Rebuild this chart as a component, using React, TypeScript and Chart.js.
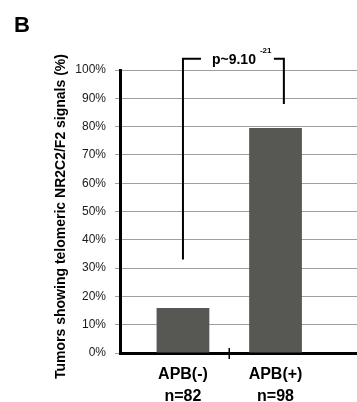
import React, { useEffect, useRef } from 'react';
import { Chart, registerables } from 'chart.js';
Chart.register(...registerables);

const panelLabel = 'B';
const categories = ['APB(-)', 'APB(+)'];
const sampleSizes = ['n=82', 'n=98'];
const values = [15.9, 79.5];
const yTicks = [0, 10, 20, 30, 40, 50, 60, 70, 80, 90, 100];
const yTitle = 'Tumors showing telomeric NR2C2/F2 signals (%)';
const pText = 'p~9.10';
const pExp = '-21';
const bracketTop = 104;
const bracketLeftBottom = 33;
const bracketRightBottom = 88;
const bracketRightX = 2.09;

const FONT = "'Liberation Sans', Arial, sans-serif";

export default function App() {
  const ref = useRef<HTMLCanvasElement>(null);
  useEffect(() => {
    const annot = {
      id: 'annot',
      afterDraw(chart: any) {
        const x = chart.scales.x, y = chart.scales.y, ctx = chart.ctx;
        ctx.save();
        ctx.strokeStyle = '#000';
        ctx.fillStyle = '#000';
        const tx = x.getPixelForValue(1.5);
        const y0 = y.getPixelForValue(0);
        ctx.lineWidth = 1.5;
        ctx.beginPath();
        ctx.moveTo(tx, y0 - 5);
        ctx.lineTo(tx, y0 + 6);
        ctx.stroke();
        const xl = x.getPixelForValue(1), xr = x.getPixelForValue(bracketRightX);
        const yt = y.getPixelForValue(bracketTop);
        ctx.lineWidth = 2;
        ctx.beginPath();
        ctx.moveTo(xl, y.getPixelForValue(bracketLeftBottom));
        ctx.lineTo(xl, yt);
        ctx.lineTo(xl + 18, yt);
        ctx.moveTo(xr - 10, yt);
        ctx.lineTo(xr, yt);
        ctx.lineTo(xr, y.getPixelForValue(bracketRightBottom));
        ctx.stroke();
        ctx.textBaseline = 'alphabetic';
        ctx.textAlign = 'left';
        ctx.font = `bold 14px ${FONT}`;
        ctx.fillText(pText, xl + 29, yt + 5.5);
        const w = ctx.measureText(pText).width;
        ctx.font = `bold 8px ${FONT}`;
        ctx.fillText(pExp, xl + 29 + w + 4, yt - 5.5);
        ctx.font = `bold 22px ${FONT}`;
        ctx.fillText(panelLabel, 14, 32);
        // y axis title
        ctx.save();
        ctx.translate(61, (chart.chartArea.top + chart.chartArea.bottom) / 2 + 5);
        ctx.rotate(-Math.PI / 2);
        ctx.textAlign = 'center';
        ctx.textBaseline = 'middle';
        ctx.font = `bold 14px ${FONT}`;
        ctx.fillText(yTitle, 0, 0);
        ctx.restore();
        ctx.restore();
      },
    };
    const chart = new Chart(ref.current as HTMLCanvasElement, {
      type: 'bar',
      data: {
        datasets: [
          {
            data: categories.map((c, i) => ({ x: i + 1, y: values[i] })),
            backgroundColor: '#575753',
            barPercentage: 0.57,
            categoryPercentage: 1,
          },
        ],
      },
      options: {
        animation: false,
        responsive: false,
        devicePixelRatio: 1,
        layout: { padding: { top: 70, right: 0, left: 0, bottom: 0 } },
        plugins: { legend: { display: false }, tooltip: { enabled: false } },
        scales: {
          x: {
            type: 'linear',
            offset: false,
            min: 0.32,
            max: 2.88,
            afterBuildTicks: (s: any) => {
              s.ticks = categories.map((_, i) => ({ value: i + 1 }));
            },
            afterFit: (s: any) => {
              s.height = 49;
            },
            grid: { display: false, offset: false, drawTicks: false },
            border: { display: true, color: '#000', width: 3 },
            ticks: {
              autoSkip: false,
              maxRotation: 0,
              padding: 11,
              font: { family: FONT, size: 16, weight: 'bold', lineHeight: 1.35 },
              color: '#000',
              callback: (v: any) => [categories[v - 1], sampleSizes[v - 1]],
            },
          },
          y: {
            min: 0,
            max: 100,
            afterBuildTicks: (s: any) => {
              s.ticks = yTicks.map((v) => ({ value: v }));
            },
            afterFit: (s: any) => {
              s.width = 120;
            },
            grid: { color: '#a0a0a0', lineWidth: 1, tickLength: 5, drawTicks: true },
            border: { color: '#000', width: 3 },
            ticks: {
              padding: 9,
              font: { family: FONT, size: 12 },
              color: '#1a1a1a',
              callback: (v: any) => v + '%',
            },
          },
        },
      },
      plugins: [annot],
    } as any);
    return () => chart.destroy();
  }, []);
  return (
    <div style={{ position: 'absolute', left: 0, top: 0, width: 357, height: 402 }}>
      <canvas ref={ref} width={357} height={402} />
    </div>
  );
}
